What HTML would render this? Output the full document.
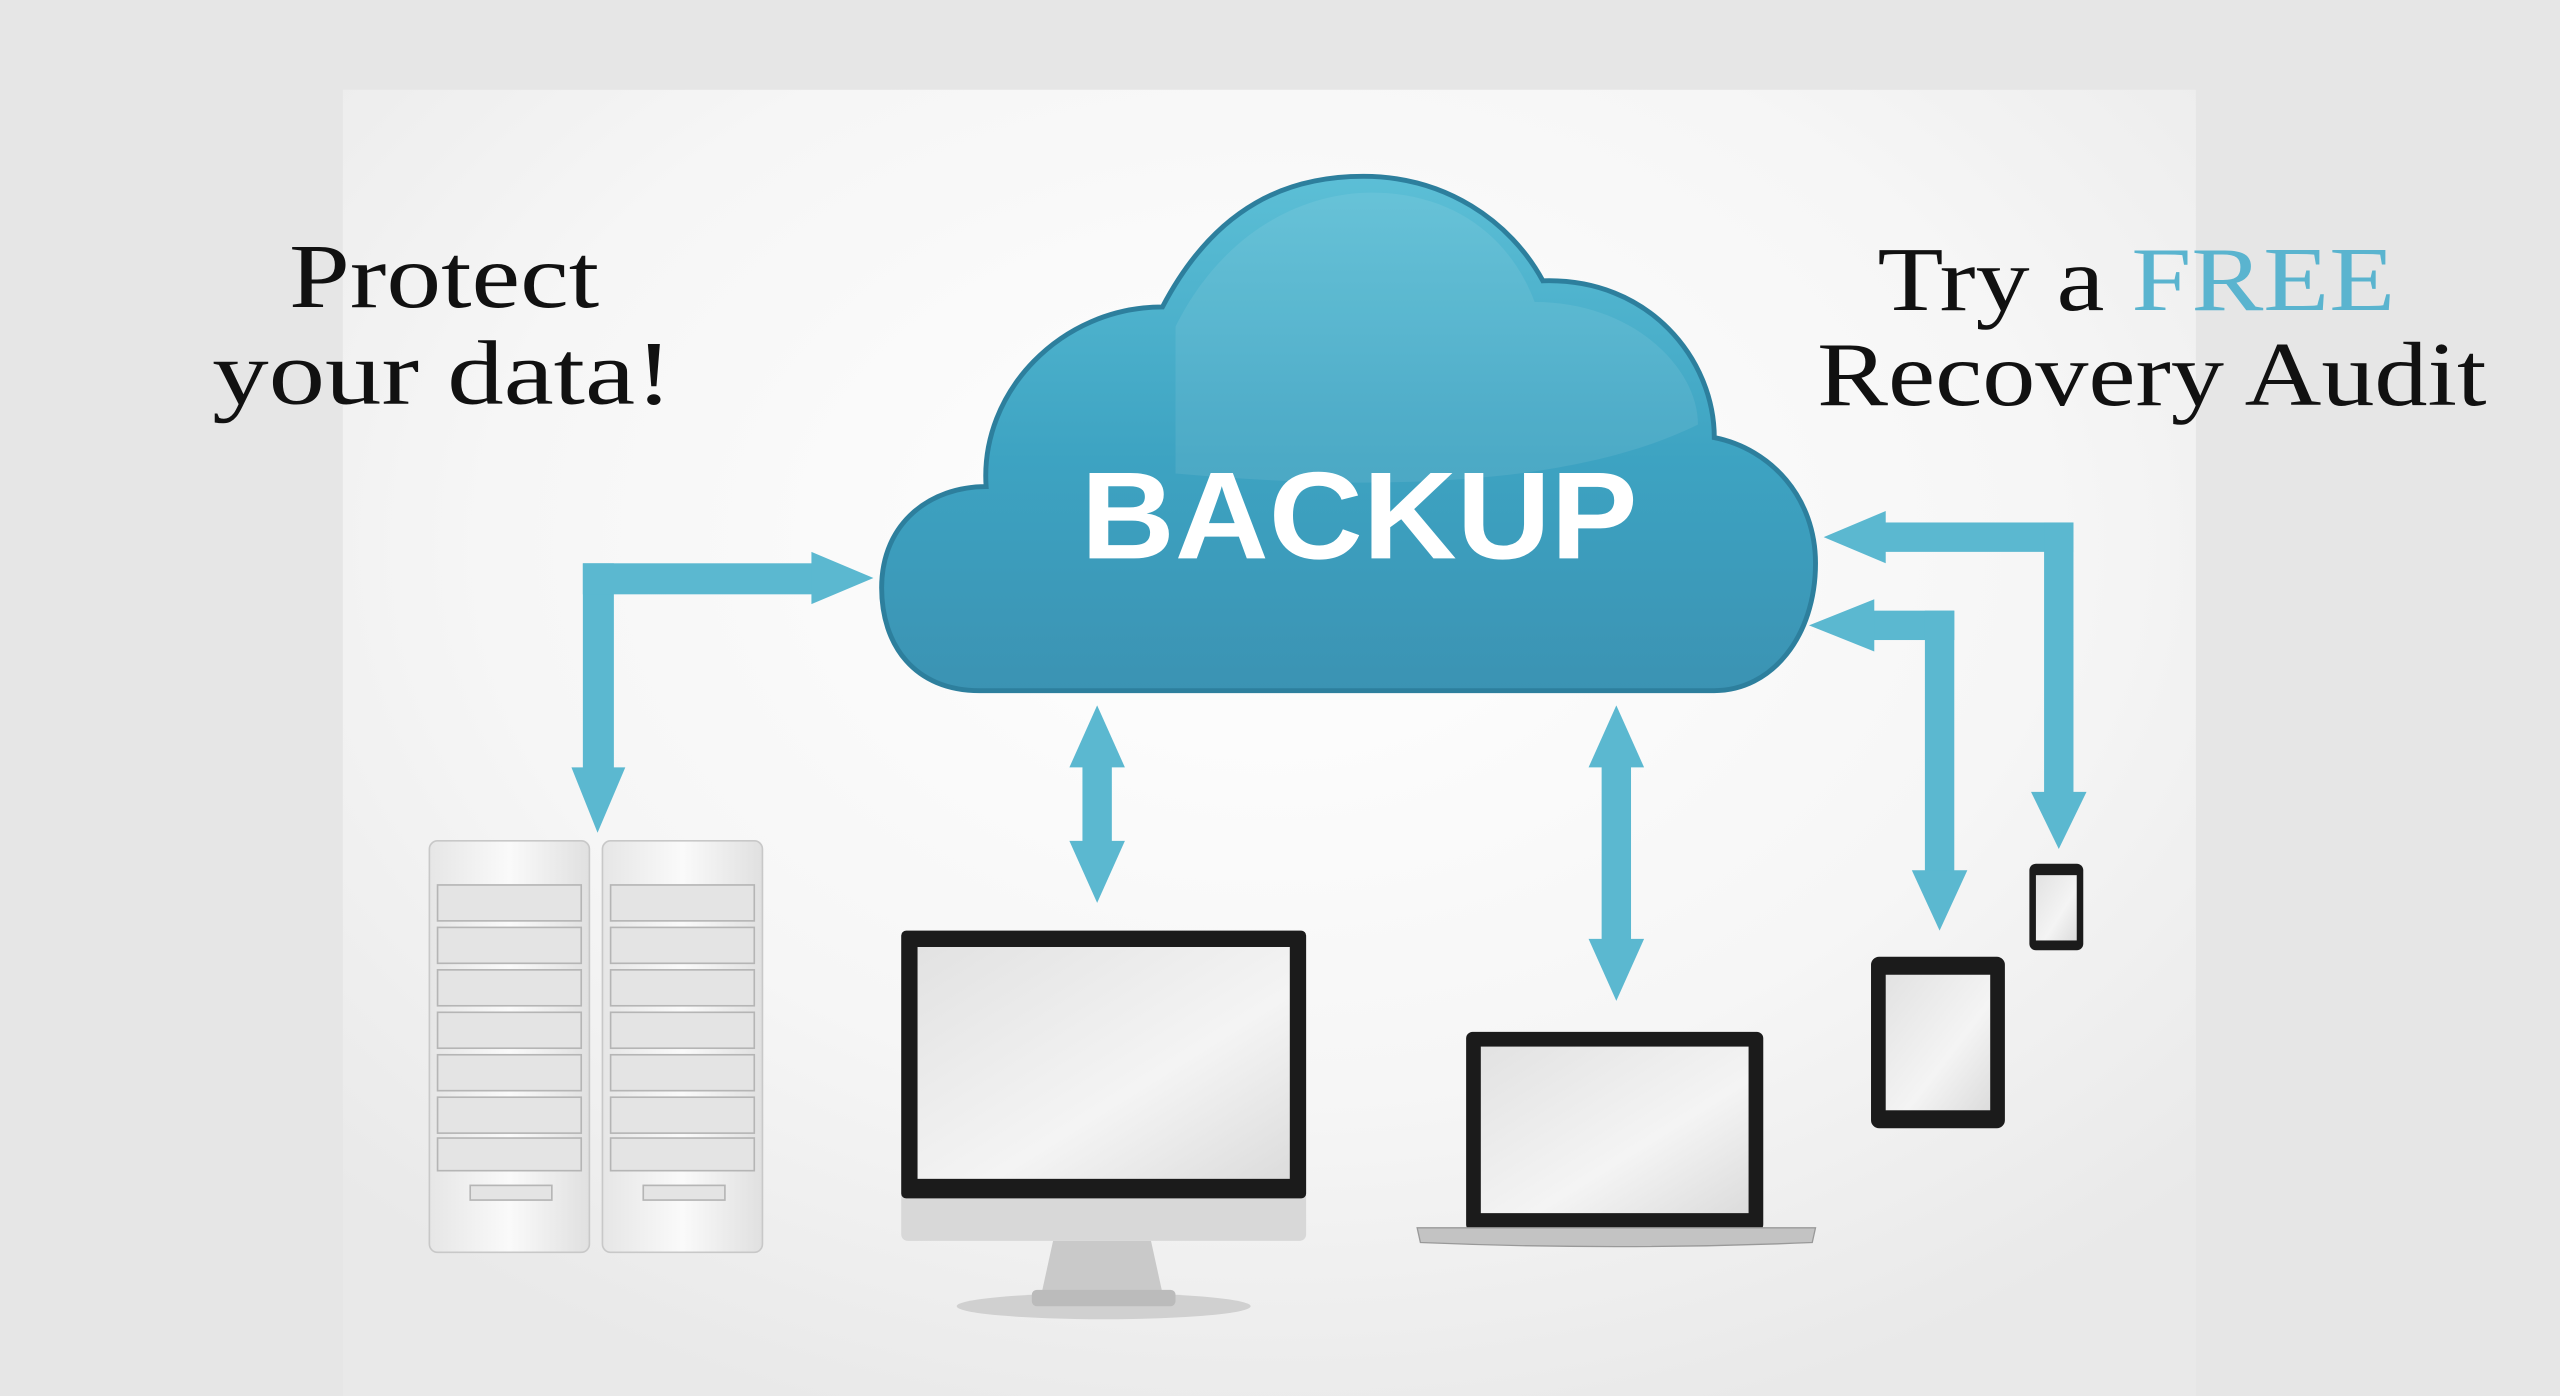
<!DOCTYPE html>
<html><head><meta charset="utf-8"><style>
html,body{margin:0;padding:0;width:2560px;height:1396px;overflow:hidden;background:#e5e5e5}
svg{display:block}
</style></head><body>
<svg width="2560" height="1396" viewBox="0 0 1568 855" preserveAspectRatio="none" xmlns="http://www.w3.org/2000/svg">
<defs>
<radialGradient id="bg" cx="0.5" cy="0.35" r="0.7">
<stop offset="0" stop-color="#ffffff"/><stop offset="0.6" stop-color="#f6f6f6"/><stop offset="1" stop-color="#e9e9e9"/></radialGradient>
<linearGradient id="cl" x1="0" y1="0" x2="0" y2="1">
<stop offset="0" stop-color="#5cbfd6"/><stop offset="0.55" stop-color="#3da3c2"/><stop offset="1" stop-color="#3b93b3"/></linearGradient>
<linearGradient id="scr" x1="0" y1="0" x2="1" y2="1">
<stop offset="0" stop-color="#e2e2e2"/><stop offset="0.6" stop-color="#f4f4f4"/><stop offset="1" stop-color="#dcdcdc"/></linearGradient>
<linearGradient id="srv" x1="0" y1="0" x2="1" y2="0">
<stop offset="0" stop-color="#e6e6e6"/><stop offset="0.5" stop-color="#fafafa"/><stop offset="1" stop-color="#e0e0e0"/></linearGradient>
</defs>
<rect width="1568" height="855" fill="#e6e6e6"/>
<rect x="210" y="55" width="1135" height="800" fill="url(#bg)"/>

<g font-family="'Liberation Serif',serif" font-size="56" fill="#111" lengthAdjust="spacingAndGlyphs">
<text x="177" y="188" textLength="190" lengthAdjust="spacingAndGlyphs">Protect</text>
<text x="130" y="247" textLength="282" lengthAdjust="spacingAndGlyphs">your data!</text>
<text x="1150" y="190" textLength="317" lengthAdjust="spacingAndGlyphs">Try a <tspan fill="#5ab4cf">FREE</tspan></text>
<text x="1113" y="248" textLength="410" lengthAdjust="spacingAndGlyphs">Recovery Audit</text>
</g>

<!-- cloud -->
<path d="M600,423 C560,423 540,395 540,360 C540,320 570,298 604,298 C600,240 650,188 712,188 C745,125 790,108 835,108 C885,108 925,135 945,172 C1010,170 1050,220 1050,268 C1085,275 1112,305 1112,345 C1112,390 1085,423 1050,423 Z" fill="url(#cl)" stroke="#2d7f9d" stroke-width="3"/>
<path d="M720,200 C750,140 800,118 840,118 C890,118 925,145 940,185 C1000,185 1040,225 1040,260 C960,300 830,300 720,290 Z" fill="#ffffff" opacity="0.08"/>
<text x="662" y="342" textLength="341" lengthAdjust="spacingAndGlyphs" font-family="'Liberation Sans',sans-serif" font-weight="bold" font-size="76" fill="#fff">BACKUP</text>

<g fill="#5bb8d0">
<rect x="357" y="345" width="19" height="135"/>
<rect x="357" y="345" width="145" height="19"/>
<polygon points="497,338 535,354 497,370"/>
<polygon points="350,470 383,470 366,510"/>
<rect x="663" y="465" width="18" height="60"/>
<polygon points="655,470 689,470 672,432"/>
<polygon points="655,515 689,515 672,553"/>
<rect x="981" y="465" width="18" height="115"/>
<polygon points="973,470 1007,470 990,432"/>
<polygon points="973,575 1007,575 990,613"/>
<rect x="1150" y="320" width="120" height="18"/>
<rect x="1252" y="320" width="18" height="172"/>
<polygon points="1155,313 1117,329 1155,345"/>
<polygon points="1244,485 1278,485 1261,520"/>
<rect x="1145" y="374" width="52" height="18"/>
<rect x="1179" y="374" width="18" height="165"/>
<polygon points="1148,367 1108,383 1148,399"/>
<polygon points="1171,533 1205,533 1188,570"/>
</g>

<g>
<rect x="263" y="515" width="98" height="252" rx="5" fill="url(#srv)" stroke="#c8c8c8"/>
<rect x="369" y="515" width="98" height="252" rx="5" fill="url(#srv)" stroke="#c8c8c8"/>
<g fill="#e4e4e4" stroke="#b5b5b5" stroke-width="1">
<rect x="268" y="542" width="88" height="22"/><rect x="268" y="568" width="88" height="22"/><rect x="268" y="594" width="88" height="22"/><rect x="268" y="620" width="88" height="22"/><rect x="268" y="646" width="88" height="22"/><rect x="268" y="672" width="88" height="22"/><rect x="268" y="697" width="88" height="20"/>
<rect x="374" y="542" width="88" height="22"/><rect x="374" y="568" width="88" height="22"/><rect x="374" y="594" width="88" height="22"/><rect x="374" y="620" width="88" height="22"/><rect x="374" y="646" width="88" height="22"/><rect x="374" y="672" width="88" height="22"/><rect x="374" y="697" width="88" height="20"/>
<rect x="288" y="726" width="50" height="9"/><rect x="394" y="726" width="50" height="9"/>
</g>
</g>

<ellipse cx="676" cy="800" rx="90" ry="8" fill="#d0d0d0"/>
<path d="M645,760 L705,760 L712,792 L638,792 Z" fill="#c9c9c9"/>
<rect x="632" y="790" width="88" height="10" rx="3" fill="#bbb"/>
<rect x="552" y="570" width="248" height="190" rx="4" fill="#d8d8d8"/>
<rect x="552" y="570" width="248" height="164" rx="3" fill="#1b1b1b"/>
<rect x="562" y="580" width="228" height="142" fill="url(#scr)"/>

<rect x="898" y="632" width="182" height="122" rx="4" fill="#1b1b1b"/>
<rect x="907" y="641" width="164" height="102" fill="url(#scr)"/>
<path d="M868,752 L1112,752 L1110,761 Q990,766 870,761 Z" fill="#c3c3c3" stroke="#999" stroke-width="0.8"/>

<rect x="1146" y="586" width="82" height="105" rx="5" fill="#1b1b1b"/>
<rect x="1155" y="597" width="64" height="83" fill="url(#scr)"/>
<rect x="1243" y="529" width="33" height="53" rx="4" fill="#1b1b1b"/>
<rect x="1247" y="536" width="25" height="40" fill="url(#scr)"/>
</svg>
</body></html>
